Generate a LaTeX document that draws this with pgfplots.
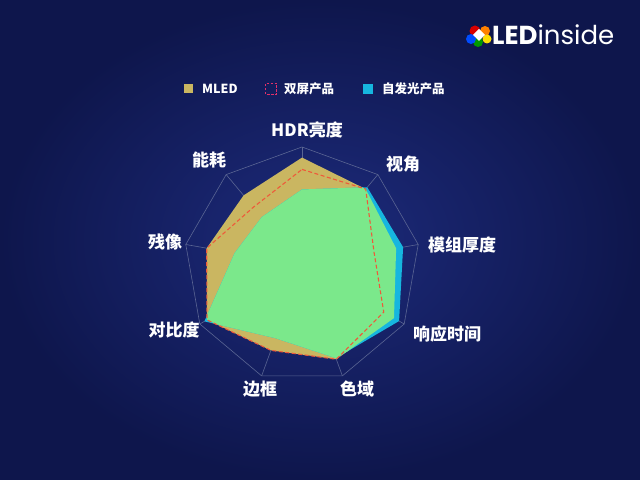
\documentclass[border=0pt]{standalone}
\usepackage{pgfplots}
\pgfplotsset{compat=1.18}
\usepgfplotslibrary{polar}
\usepackage{fontspec}
\setmainfont{Noto Sans CJK SC}
\newfontfamily\logofont{Poppins}

\definecolor{bgin}{HTML}{1D2B7C}
\definecolor{bgout}{HTML}{0E164C}
\definecolor{mled}{HTML}{CAB661}
\definecolor{selfc}{HTML}{16B6DF}
\definecolor{both}{HTML}{7BE88B}
\definecolor{dual}{HTML}{EE5A3A}
\definecolor{dualkey}{HTML}{E0306A}
\definecolor{gridc}{HTML}{5A6593}

\begin{document}
\begin{tikzpicture}[x=1bp,y=1bp]
\shade[inner color=bgin, outer color=bgout] (0,0) rectangle (640,480);

\begin{polaraxis}[
  at={(302bp,215bp)}, anchor=center,
  scale only axis, width=236bp, height=236bp,
  hide axis, clip=false,
  ymin=0, ymax=1,
]
  % grid: outer ring and spokes
  \addplot[gridc, line width=0.6bp] coordinates {
    (90,1) (50,1) (10,1) (330,1) (290,1) (250,1) (210,1) (170,1) (130,1) (90,1)};
  \pgfplotsinvokeforeach{90,50,10,330,290,250,210,170,130}{
    \addplot[gridc, line width=0.6bp] coordinates {(#1,0) (#1,1)};
  }

  % MLED
  \addplot[fill=mled, draw=none] coordinates {
    (90,0.91) (50,0.84) (10,0.81) (330,0.90) (290,0.85)
    (250,0.77) (210,0.93) (170,0.82) (130,0.77) (90,0.91)};

  % self-emissive
  \addplot[fill=selfc, draw=none] coordinates {
    (90,0.64) (50,0.86) (10,0.87) (330,0.95) (290,0.84)
    (250,0.66) (210,0.955) (170,0.58) (130,0.53) (90,0.64)};

  % overlap of the two areas
  \begin{scope}
    \clip (axis cs:90,0.91) -- (axis cs:50,0.84) -- (axis cs:10,0.81)
      -- (axis cs:330,0.90) -- (axis cs:290,0.85) -- (axis cs:250,0.77)
      -- (axis cs:210,0.93) -- (axis cs:170,0.82) -- (axis cs:130,0.77) -- cycle;
    \addplot[fill=both, draw=none] coordinates {
      (90,0.64) (50,0.86) (10,0.87) (330,0.95) (290,0.84)
      (250,0.66) (210,0.955) (170,0.58) (130,0.53) (90,0.64)};
  \end{scope}

  % dual-screen
  \addplot[dual, line width=1.1bp, dash pattern=on 4bp off 2.5bp] coordinates {
    (90,0.81) (50,0.84) (10,0.62) (330,0.80) (290,0.85)
    (250,0.77) (210,0.93) (170,0.82) (130,0.64) (90,0.81)};
\end{polaraxis}

% axis labels
\begin{scope}[every node/.style={text=white, inner sep=0pt, font=\bfseries\fontsize{17bp}{20bp}\selectfont}]
  \node at (307,350) {HDR亮度};
  \node at (403,316) {视角};
  \node at (462,235) {模组厚度};
  \node at (447,146) {响应时间};
  \node at (357,91) {色域};
  \node at (260,91) {边框};
  \node at (174,150) {对比度};
  \node at (165,238) {残像};
  \node at (209,320) {能耗};
\end{scope}

% legend
\begin{scope}[every node/.style={text=white, inner sep=0pt, anchor=west, font=\bfseries\fontsize{12.5bp}{15bp}\selectfont}]
  \fill[mled] (184,387) rectangle (193,396);
  \node at (202,391) {MLED};
  \draw[dualkey, line width=1.1bp, dash pattern=on 2.5bp off 1.5bp] (265.5,385.5) rectangle (276.5,396.5);
  \node at (284,391) {双屏产品};
  \fill[selfc] (363,386) rectangle (373,396);
  \node at (382,391) {自发光产品};
\end{scope}

% logo
\fill[red!85!black] (475,449) circle (5.5);
\fill[orange] (485,449) circle (5);
\fill[yellow!80!orange] (487,441) circle (4.5);
\fill[green!60!black] (478,438) circle (5);
\fill[blue!70!cyan] (471,441) circle (5);
\fill[white] (479,451) -- (485,445) -- (479,439) -- (473,445) -- cycle;
\node[text=white, inner sep=0pt, anchor=west, font=\logofont\fontsize{26bp}{28bp}\selectfont] at (492,445) {\textbf{LED}inside};
\end{tikzpicture}
\end{document}
